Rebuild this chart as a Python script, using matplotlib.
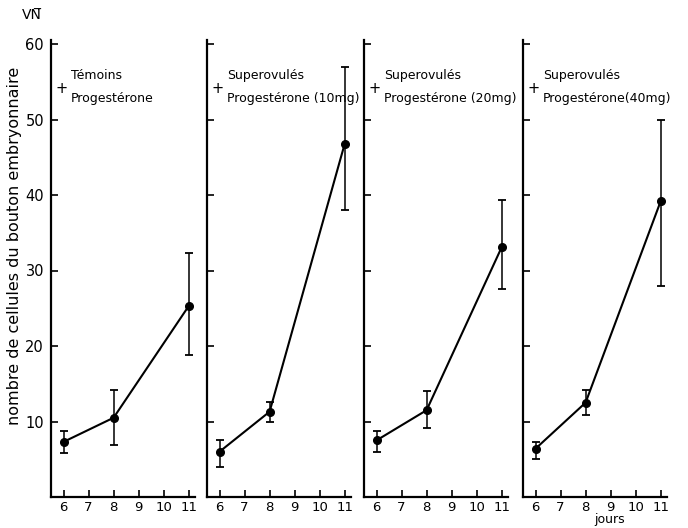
import matplotlib
matplotlib.use('Agg')
import matplotlib.pyplot as plt

# ── Data ────────────────────────────────────────────────────────────────────
days = [6, 8, 11]
titles = [("Témoins", "Progestérone"),
          ("Superovulés", "Progestérone (10mg)"),
          ("Superovulés", "Progestérone (20mg)"),
          ("Superovulés", "Progestérone(40mg)")]
means = [[7.3, 10.5, 25.3],
         [6.0, 11.3, 46.8],
         [7.5, 11.5, 33.1],
         [6.4, 12.5, 39.2]]
err_low = [[5.8, 6.9, 18.8],
           [4.0, 10.0, 38.0],
           [6.0, 9.1, 27.5],
           [5.0, 10.9, 28.0]]
err_high = [[8.7, 14.2, 32.3],
            [7.5, 12.6, 57.0],
            [8.7, 14.0, 39.3],
            [7.3, 14.2, 50.0]]
xticks = [6, 7, 8, 9, 10, 11]
xticklabels = ["6", "7", "8", "9", "10", "11"]
yticks = [10, 20, 30, 40, 50, 60]

plt.rcParams['font.family'] = ['DejaVu Sans']
W, H = 688, 528
fig = plt.figure(figsize=(W / 100, H / 100), dpi=100)

# panel geometry in pixels
lefts = [51, 207, 364, 523]
width = 144
bottom = 497
ymax = 60.5
px_per_unit = 7.55
height = ymax * px_per_unit

for i, left in enumerate(lefts):
    ax = fig.add_axes([left / W, 1 - bottom / H, width / W, height / H])
    lo = [m - l for m, l in zip(means[i], err_low[i])]
    hi = [h - m for m, h in zip(means[i], err_high[i])]
    ax.errorbar(days, means[i], yerr=[lo, hi], fmt='-o', color='black',
                lw=1.5, ms=5.5, elinewidth=1.1, capsize=3, capthick=1.3)
    ax.set_xlim(5.5, 11.25)
    ax.set_ylim(0, ymax)
    for s in ['top', 'right']:
        ax.spines[s].set_visible(False)
    for s in ['left', 'bottom']:
        ax.spines[s].set_linewidth(1.6)
    ax.set_xticks(xticks)
    ax.set_xticklabels(xticklabels, fontsize=9.5)
    ax.set_yticks(yticks)
    ax.xaxis.set_tick_params(direction='in', length=5, width=1.2, pad=3,
                             bottom=True, top=False)
    ax.yaxis.set_tick_params(direction='in', length=5, width=1.2, pad=5,
                             left=True, right=False)
    if i == 0:
        ax.set_yticklabels([str(v) for v in yticks], fontsize=10.5)
    else:
        ax.set_yticklabels([])
    ax.patch.set_alpha(0)
    # panel caption
    ax.text(0.076, 0.895, "+", transform=ax.transAxes, fontsize=10.5,
            ha='center', va='center')
    ax.text(0.14, 0.923, titles[i][0], transform=ax.transAxes, fontsize=9,
            ha='left', va='center')
    ax.text(0.14, 0.873, titles[i][1], transform=ax.transAxes, fontsize=9,
            ha='left', va='center')

fig.text(15 / W, 1 - 246 / H, "nombre de cellules du bouton embryonnaire",
         rotation=90, fontsize=11.5, ha='center', va='center')
fig.text(22 / W, 1 - 15 / H, "VN\u0305", fontsize=10, ha='left', va='center')
fig.text(610 / W, 1 - 520 / H, "jours", fontsize=9, ha='center', va='center')

fig.savefig("out.png", dpi=100)
